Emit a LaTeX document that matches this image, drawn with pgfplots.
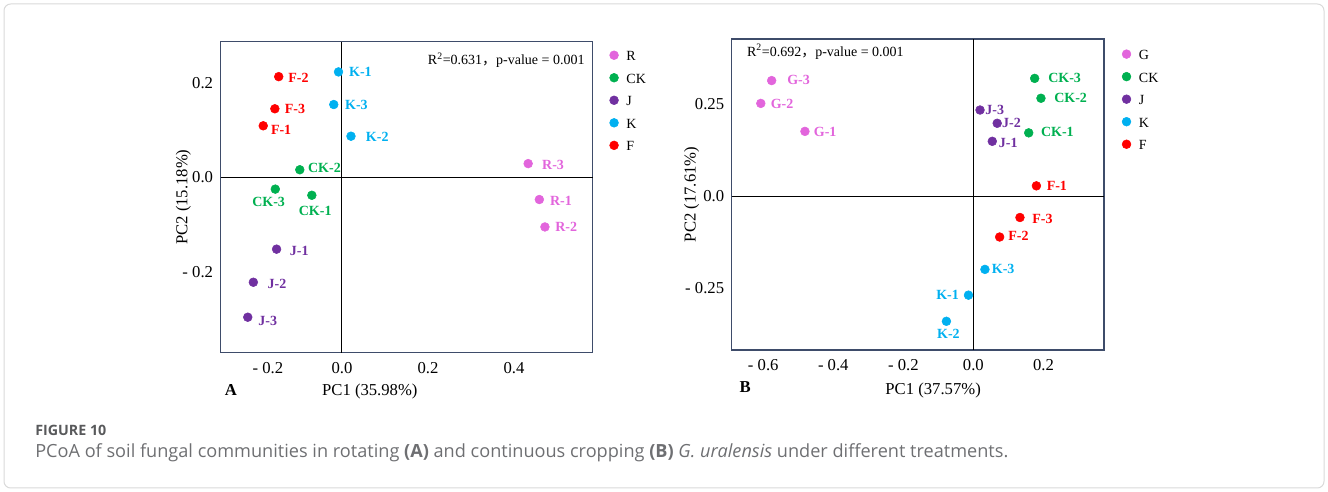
\documentclass[border=0pt]{standalone}
\usepackage{pgfplots}
\pgfplotsset{compat=1.18}
\usepackage{pgfplotstable}
\usepackage{fontspec}
\setmainfont{Liberation Serif}
\newfontfamily\capfont{Open Sans}
\newfontfamily\cjk{Noto Sans CJK SC}
\definecolor{cR}{HTML}{E265DC}
\definecolor{cCK}{HTML}{00B050}
\definecolor{cJ}{HTML}{7030A0}
\definecolor{cK}{HTML}{00B0F0}
\definecolor{cF}{HTML}{FF0000}
\definecolor{boxc}{HTML}{3E4C6A}
\definecolor{capgray}{HTML}{58595B}
\definecolor{captext}{HTML}{6E6F72}

% ---------- Panel A data (dx, dy: label centre offset in pt) ----------
\pgfplotstableread{
x y lab dx dy
0.433 0.029 R-3 18.7 -1
0.459 -0.047 R-1 16.2 -0.75
0.472 -0.105 R-2 15.95 0
}\tabAR
\pgfplotstableread{
x y lab dx dy
-0.070 -0.038 CK-1 2.5 -11.5
-0.098 0.016 CK-2 18.5 1.2
-0.155 -0.025 CK-3 -5 -9.75
}\tabACK
\pgfplotstableread{
x y lab dx dy
-0.152 -0.152 J-1 17 -1.2
-0.206 -0.222 J-2 17.75 -1
-0.219 -0.296 J-3 15 -2.5
}\tabAJ
\pgfplotstableread{
x y lab dx dy
-0.008 0.223 K-1 16.46 0
0.021 0.087 K-2 19.7 -0.3
-0.019 0.154 K-3 16.96 -0.5
}\tabAK
\pgfplotstableread{
x y lab dx dy
-0.183 0.109 F-1 13.4 -3
-0.147 0.213 F-2 14.8 -1.2
-0.156 0.145 F-3 15.1 0
}\tabAF

% ---------- Panel B data ----------
\pgfplotstableread{
x y lab dx dy
-0.481 0.176 G-1 15.2 -0.75
-0.607 0.252 G-2 15.96 -0.5
-0.576 0.314 G-3 20.2 0.75
}\tabBG
\pgfplotstableread{
x y lab dx dy
0.158 0.172 CK-1 21.5 1
0.193 0.266 CK-2 22.25 0
0.175 0.320 CK-3 22.5 0
}\tabBCK
\pgfplotstableread{
x y lab dx dy
0.054 0.149 J-1 12 -1.25
0.068 0.198 J-2 10.75 0
0.019 0.234 J-3 11 0
}\tabBJ
\pgfplotstableread{
x y lab dx dy
-0.014 -0.269 K-1 -15.7 0
-0.077 -0.340 K-2 1.5 -9.5
0.033 -0.199 K-3 13.7 0.5
}\tabBK
\pgfplotstableread{
x y lab dx dy
0.180 0.028 F-1 15.35 0
0.075 -0.111 F-2 14.1 0.5
0.133 -0.058 F-3 16.85 -0.75
}\tabBF

\pgfplotsset{
  pcoa/.style={only marks, mark=*, mark size=3.3pt, color=#1,
    mark options={draw=#1, fill=#1},
    nodes near coords, point meta=explicit symbolic,
    visualization depends on={\thisrow{dx} \as \myshx},
    visualization depends on={\thisrow{dy} \as \myshy},
    nodes near coords style={anchor=center, xshift=\myshx pt, yshift=\myshy pt,
      inner sep=0pt, font=\bfseries\fontsize{10.5}{12}\selectfont, text=#1},
    legend image code/.code={\draw[only marks, mark=*, mark size=3.3pt, draw=#1, fill=#1, mark repeat=1] plot coordinates {(0pt,0.6pt)};}},
  pcoaaxis/.style={scale only axis, clip=false,
    axis line style={boxc, line width=1.1pt},
    major tick length=0pt,
    ticklabel style={font=\fontsize{12.5}{14}\selectfont},
    xticklabel style={yshift=-3.5pt},
    yticklabel style={xshift=-2.2pt},
    label style={font=\fontsize{12.5}{14}\selectfont},
    extra x ticks={0},
    extra y ticks={0},
    extra tick style={grid=major, major grid style={black, line width=0.7pt}},
    legend style={draw=none, fill=none, inner sep=0pt, row sep=7.9pt, column sep=5pt,
      font=\fontsize{10.5}{12}\selectfont,
      nodes={inner sep=1pt, text height=7pt, text depth=0pt}},
    legend cell align=left}
}

\begin{document}
\begin{tikzpicture}
\useasboundingbox (0,0) rectangle (996pt,369pt);
\draw[gray!30, line width=0.75pt, rounded corners=5pt] (3pt,3pt) rectangle (993pt,366pt);

% ---------------- Panel A ----------------
\begin{axis}[pcoaaxis, at={(165.5pt,104.5pt)}, anchor=south west,
  width=279pt, height=233.25pt,
  xmin=-0.282, xmax=0.583, ymin=-0.371, ymax=0.287,
  xtick={-0.2,0.2,0.4}, xticklabels={{\hspace*{18pt}- 0.2},0.2,0.4},
  ytick={-0.2,0.2}, yticklabels={- 0.2,0.2},
  extra x tick labels={0.0}, extra y tick labels={0.0},
  xlabel={PC1 (35.98\%)}, ylabel={PC2 (15.18\%)},
  xlabel style={at={(axis description cs:0.401,-0.1254)}, anchor=center},
  ylabel style={at={(axis description cs:-0.1004,0.5)}, anchor=center},
  legend style={at={(axis description cs:1.045,0.974)}, anchor=north west}]
\addplot[pcoa=cR] table[x=x, y=y, meta=lab] {\tabAR};
\addlegendentry{R}
\addplot[pcoa=cCK] table[x=x, y=y, meta=lab] {\tabACK};
\addlegendentry{CK}
\addplot[pcoa=cJ] table[x=x, y=y, meta=lab] {\tabAJ};
\addlegendentry{J}
\addplot[pcoa=cK] table[x=x, y=y, meta=lab] {\tabAK};
\addlegendentry{K}
\addplot[pcoa=cF] table[x=x, y=y, meta=lab] {\tabAF};
\addlegendentry{F}
\node[anchor=east, inner sep=0pt, font=\fontsize{10.5}{12}\selectfont]
  at (axis description cs:0.979,0.941) {R\textsuperscript{2}=0.631{\cjk ，}p-value = 0.001};
\node[font=\bfseries\fontsize{12.5}{14}\selectfont]
  at (axis description cs:0.0277,-0.12) {A};
\end{axis}

% ---------------- Panel B ----------------
\begin{axis}[pcoaaxis, at={(548.8pt,106.5pt)}, anchor=south west,
  width=279.2pt, height=233.25pt,
  xmin=-0.690, xmax=0.373, ymin=-0.418, ymax=0.427,
  xtick={-0.6,-0.4,-0.2,0.2}, xticklabels={- 0.6,- 0.4,- 0.2,0.2},
  ytick={-0.25,0.25}, yticklabels={- 0.25,0.25},
  extra x tick labels={0.0}, extra y tick labels={0.0},
  xlabel={PC1 (37.57\%)}, ylabel={PC2 (17.61\%)},
  xlabel style={at={(axis description cs:0.541,-0.131)}, anchor=center},
  ylabel style={at={(axis description cs:-0.1075,0.5)}, anchor=center},
  legend style={at={(axis description cs:1.048,0.969)}, anchor=north west}]
\addplot[pcoa=cR] table[x=x, y=y, meta=lab] {\tabBG};
\addlegendentry{G}
\addplot[pcoa=cCK] table[x=x, y=y, meta=lab] {\tabBCK};
\addlegendentry{CK}
\addplot[pcoa=cJ] table[x=x, y=y, meta=lab] {\tabBJ};
\addlegendentry{J}
\addplot[pcoa=cK] table[x=x, y=y, meta=lab] {\tabBK};
\addlegendentry{K}
\addplot[pcoa=cF] table[x=x, y=y, meta=lab] {\tabBF};
\addlegendentry{F}
\node[anchor=west, inner sep=0pt, font=\fontsize{10.5}{12}\selectfont]
  at (axis description cs:0.0403,0.959) {R\textsuperscript{2}=0.692{\cjk ，}p-value = 0.001};
\node[font=\bfseries\fontsize{12.5}{14}\selectfont]
  at (axis description cs:0.0358,-0.119) {B};
\end{axis}

% ---------------- caption ----------------
\node[anchor=west, inner sep=0pt, text=capgray, font=\capfont\bfseries\fontsize{10.7}{12}\selectfont]
  at (26.25pt,46.5pt) {FIGURE 10};
\node[anchor=west, inner sep=0pt, text=captext, font=\capfont\fontsize{13.6}{16}\selectfont]
  at (26.25pt,29.5pt) {PCoA of soil fungal communities in rotating \textbf{(A)} and continuous cropping \textbf{(B)} \textit{G. uralensis} under different treatments.};
\end{tikzpicture}
\end{document}
